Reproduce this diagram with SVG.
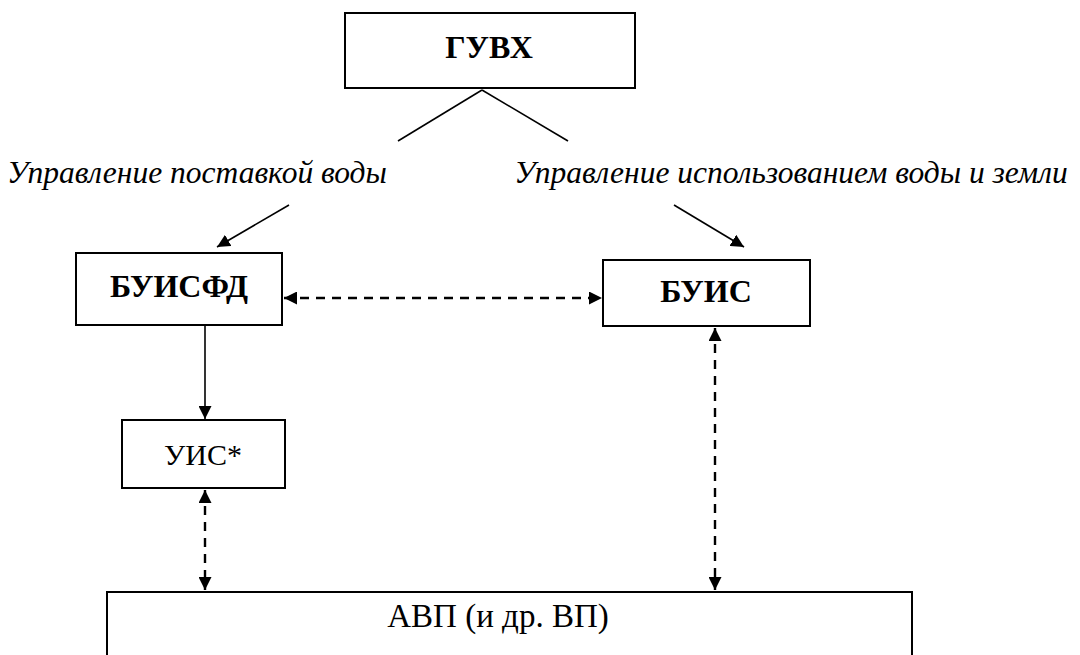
<svg xmlns="http://www.w3.org/2000/svg" width="1080" height="655" viewBox="0 0 1080 655">
<style>
.box{fill:#fff;stroke:#000;stroke-width:2}
.t{font-family:'Liberation Serif','Times New Roman',serif;fill:#000;text-anchor:middle}
.b{font-weight:bold;font-size:32px}
.n{font-size:30px}
.i{font-style:italic;font-size:31.5px}
.ln{stroke:#000;stroke-width:1.6;fill:none}
.dash{stroke:#000;stroke-width:2.4;fill:none;stroke-dasharray:9,7}
</style>
<defs>
<marker id="ah" viewBox="0 0 10 10" refX="10" refY="5" markerWidth="13" markerHeight="13" markerUnits="userSpaceOnUse" orient="auto-start-reverse">
<path d="M0,0 L10,5 L0,10 Z" fill="#000"/>
</marker>
</defs>
<g id="connectors">
<line class="ln" x1="482" y1="90" x2="398" y2="141"/>
<line class="ln" x1="482" y1="90" x2="568" y2="141"/>
<line class="ln" x1="289" y1="205" x2="217" y2="247" marker-end="url(#ah)"/>
<line class="ln" x1="674" y1="205" x2="744" y2="247" marker-end="url(#ah)"/>
<line class="dash" x1="284" y1="298" x2="602" y2="298" marker-start="url(#ah)" marker-end="url(#ah)"/>
<line class="ln" x1="205" y1="325" x2="205" y2="419" marker-end="url(#ah)"/>
<line class="dash" x1="205" y1="490" x2="205" y2="590" marker-start="url(#ah)" marker-end="url(#ah)"/>
<line class="dash" x1="715" y1="328" x2="715" y2="590" marker-start="url(#ah)" marker-end="url(#ah)"/>
</g>
<g id="labels">
<text class="t i" x="197" y="183">Управление поставкой воды</text>
<text class="t i" x="791" y="183">Управление использованием воды и земли</text>
</g>
<g id="guvh">
<rect class="box" x="345" y="13" width="290" height="75"/>
<text class="t b" x="489" y="58">ГУВХ</text>
</g>
<g id="buisfd">
<rect class="box" x="76" y="253" width="206" height="72"/>
<text class="t b" x="179" y="297">БУИСФД</text>
</g>
<g id="buis">
<rect class="box" x="603" y="260" width="207" height="66"/>
<text class="t b" x="706" y="302">БУИС</text>
</g>
<g id="uis">
<rect class="box" x="122" y="420" width="163" height="68"/>
<text class="t n" x="203" y="465">УИС*</text>
</g>
<g id="avp">
<rect class="box" x="107" y="592" width="805" height="80"/>
<text class="t n" x="498" y="627" style="font-size:33px">АВП (и др. ВП)</text>
</g>
</svg>
